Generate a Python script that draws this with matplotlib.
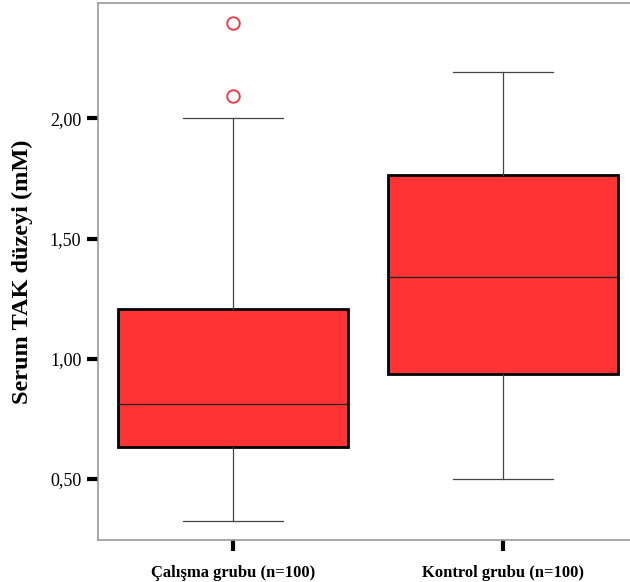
import matplotlib
matplotlib.use("Agg")
import matplotlib.pyplot as plt

# box statistics
groups = ["Çalışma grubu (n=100)", "Kontrol grubu (n=100)"]
whislo = [0.325, 0.50]
q1 = [0.633, 0.935]
med = [0.81, 1.34]
q3 = [1.205, 1.765]
whishi = [2.00, 2.195]
fliers = [[2.095, 2.395], []]
yticks = [0.5, 1.0, 1.5, 2.0]
ytick_labels = ["0,50", "1,00", "1,50", "2,00"]

plt.rcParams["font.family"] = ["Liberation Serif", "DejaVu Serif"]

fig = plt.figure(figsize=(6.3, 5.82), dpi=100)
ax = fig.add_axes([0.1556, 0.0722, 0.8444, 0.9226])

stats = []
for i in range(len(groups)):
    stats.append({"whislo": whislo[i], "q1": q1[i], "med": med[i], "q3": q3[i],
                  "whishi": whishi[i], "fliers": fliers[i], "label": groups[i]})

ax.bxp(stats, positions=[1, 2], widths=0.852, capwidths=0.37, patch_artist=True,
       boxprops=dict(facecolor="#ff3333", edgecolor="black", linewidth=2),
       medianprops=dict(color="#222222", linewidth=0.9),
       whiskerprops=dict(color="#444444", linewidth=0.9),
       capprops=dict(color="#444444", linewidth=0.9),
       flierprops=dict(marker="o", markersize=9, markerfacecolor="none",
                       markeredgecolor="#e8404a", markeredgewidth=1.4))

ax.set_xlim(0.5, 2.47)
ax.set_ylim(0.246, 2.48)
ax.set_yticks(yticks)
ax.set_yticklabels(ytick_labels, fontsize=13)
ax.set_xticks([1, 2])
ax.set_xticklabels(groups, fontsize=12, fontweight="bold")
ax.tick_params(axis="both", length=8, width=3, color="black")
ax.tick_params(axis="y", pad=4)
ax.tick_params(axis="x", pad=10)
for s in ax.spines.values():
    s.set_color("#999999")
    s.set_linewidth(1.2)
ax.spines["right"].set_visible(False)

ax.set_ylabel("Serum TAK düzeyi (mM)", fontsize=17.5, fontweight="bold", labelpad=12)

fig.savefig("out.png", dpi=100)
